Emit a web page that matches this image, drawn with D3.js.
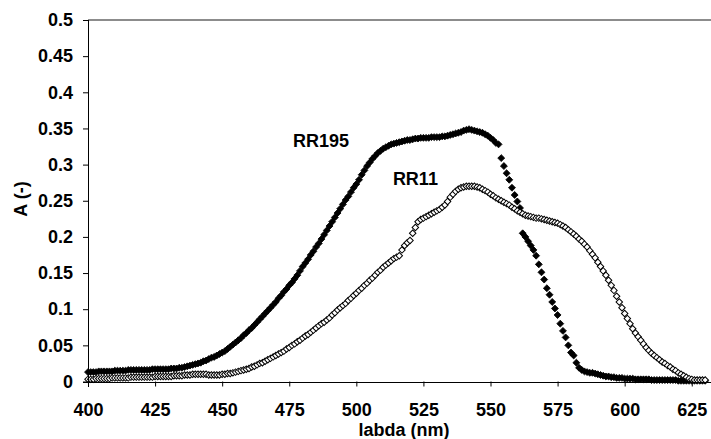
<!DOCTYPE html>
<html>
<head>
<meta charset="utf-8">
<script src="https://cdn.jsdelivr.net/npm/d3@7.9.0/dist/d3.min.js"></script>
<style>
  body { margin: 0; background: #fff; }
  svg { display: block; font-family: "Liberation Sans", Arial, sans-serif; font-weight: bold; }
  .tick text { font-size: 18px; fill: #000; }
</style>
</head>
<body>
<svg id="chart" width="711" height="439"></svg>
<script>
// wavelength grid, one reading per nm (400 .. 630)
const wavelengths = d3.range(400, 631);

const rr195 = [
  0.013,0.013,0.013,0.013,0.014,0.014,0.014,0.014,0.014,0.014,
  0.015,0.015,0.015,0.015,0.015,0.016,0.016,0.016,0.016,0.016,
  0.016,0.016,0.016,0.016,0.017,0.017,0.017,0.017,0.017,0.017,
  0.017,0.018,0.018,0.018,0.019,0.019,0.020,0.021,0.022,0.023,
  0.024,0.025,0.026,0.028,0.029,0.031,0.033,0.034,0.036,0.038,
  0.040,0.042,0.045,0.048,0.051,0.054,0.057,0.060,0.064,0.067,
  0.071,0.074,0.078,0.082,0.086,0.090,0.094,0.098,0.102,0.106,
  0.110,0.115,0.119,0.124,0.128,0.133,0.137,0.142,0.147,0.153,
  0.159,0.164,0.169,0.175,0.180,0.186,0.191,0.197,0.203,0.209,
  0.215,0.221,0.227,0.233,0.239,0.245,0.251,0.256,0.262,0.268,
  0.273,0.279,0.286,0.292,0.298,0.303,0.308,0.312,0.316,0.319,
  0.322,0.324,0.326,0.328,0.329,0.330,0.331,0.332,0.333,0.334,
  0.334,0.335,0.336,0.336,0.337,0.337,0.337,0.337,0.338,0.338,
  0.338,0.338,0.339,0.339,0.340,0.341,0.342,0.343,0.344,0.345,
  0.347,0.348,0.349,0.348,0.347,0.346,0.345,0.344,0.342,0.340,
  0.337,0.334,0.330,0.328,0.309,0.298,0.288,0.279,0.268,0.258,
  0.249,0.240,0.205,0.200,0.194,0.188,0.182,0.174,0.162,0.151,
  0.141,0.129,0.120,0.110,0.101,0.092,0.080,0.070,0.061,0.050,
  0.040,0.036,0.026,0.019,0.016,0.014,0.013,0.012,0.012,0.011,
  0.010,0.009,0.008,0.007,0.007,0.006,0.006,0.005,0.005,0.005,
  0.004,0.004,0.004,0.004,0.003,0.003,0.003,0.003,0.003,0.003,
  0.002,0.002,0.002,0.002,0.002,0.002,0.002,0.002,0.002,0.002,
  0.001,0.001,0.001,0.001,0.001,0.001,0.001,0.001,0.001,0.001,
  0.001
];

const rr11 = [
  0.003,0.003,0.003,0.004,0.004,0.004,0.004,0.004,0.004,0.005,
  0.005,0.005,0.005,0.005,0.005,0.005,0.006,0.006,0.006,0.006,
  0.006,0.006,0.006,0.006,0.006,0.007,0.007,0.007,0.007,0.007,
  0.007,0.007,0.008,0.008,0.008,0.008,0.009,0.009,0.009,0.010,
  0.010,0.010,0.010,0.010,0.010,0.009,0.009,0.009,0.009,0.009,
  0.010,0.010,0.011,0.011,0.012,0.013,0.014,0.015,0.016,0.017,
  0.018,0.020,0.021,0.023,0.025,0.026,0.028,0.030,0.032,0.034,
  0.036,0.038,0.040,0.042,0.045,0.047,0.050,0.052,0.055,0.057,
  0.060,0.063,0.065,0.068,0.071,0.074,0.077,0.080,0.082,0.085,
  0.088,0.092,0.095,0.099,0.102,0.105,0.108,0.112,0.115,0.119,
  0.122,0.126,0.129,0.133,0.136,0.140,0.143,0.147,0.151,0.154,
  0.158,0.161,0.164,0.167,0.170,0.172,0.174,0.182,0.188,0.192,
  0.195,0.205,0.213,0.221,0.224,0.226,0.228,0.230,0.232,0.234,
  0.236,0.238,0.241,0.244,0.249,0.255,0.259,0.263,0.266,0.268,
  0.269,0.270,0.270,0.270,0.270,0.269,0.268,0.266,0.264,0.262,
  0.259,0.257,0.254,0.252,0.250,0.248,0.246,0.244,0.241,0.239,
  0.236,0.234,0.232,0.230,0.229,0.228,0.227,0.226,0.226,0.225,
  0.224,0.223,0.222,0.221,0.220,0.219,0.217,0.215,0.213,0.210,
  0.207,0.204,0.201,0.197,0.194,0.190,0.186,0.181,0.176,0.171,
  0.165,0.159,0.153,0.147,0.140,0.133,0.126,0.118,0.110,0.102,
  0.094,0.087,0.080,0.073,0.067,0.062,0.057,0.052,0.047,0.043,
  0.039,0.036,0.033,0.030,0.027,0.025,0.022,0.020,0.017,0.015,
  0.012,0.010,0.008,0.006,0.004,0.003,0.002,0.002,0.002,0.002,
  0.002
];

const xTicks = [400, 425, 450, 475, 500, 525, 550, 575, 600, 625];
const yTicks = [0, 0.05, 0.1, 0.15, 0.2, 0.25, 0.3, 0.35, 0.4, 0.45, 0.5];
// label anchor = right end of the text, in data units
const seriesLabels = [
  { text: 'RR195', x: 497.3, y: 0.324 },
  { text: 'RR11', x: 530.4, y: 0.272 }
];

const svg = d3.select('#chart');

// plot area runs past the right edge of the picture (cropped like the source)
const x = d3.scaleLinear().domain([400, 640]).range([88, 732]);
const y = d3.scaleLinear().domain([0, 0.5]).range([381.5, 20]);

// top frame line (grey)
svg.append('line')
  .attr('x1', x(400)).attr('x2', x(640))
  .attr('y1', y(0.5)).attr('y2', y(0.5))
  .attr('stroke', '#666').attr('stroke-width', 1.5);

function drawSeries(values, filled) {
  const diamond = d3.symbol().type(d3.symbolSquare).size(filled ? 24 : 21);
  svg.append('g')
    .selectAll('path')
    .data(values.map((v, i) => [wavelengths[i], v]))
    .join('path')
    .attr('d', diamond)
    .attr('transform', d => `translate(${x(d[0])},${y(d[1])}) rotate(45)`)
    .attr('fill', filled ? '#000' : '#fff')
    .attr('stroke', '#000')
    .attr('stroke-width', filled ? 0.8 : 1);
}

drawSeries(rr195, true);
drawSeries(rr11, false);

const xAxis = svg.append('g')
  .attr('transform', `translate(0,${y(0)})`)
  .call(d3.axisBottom(x).tickValues(xTicks).tickSize(5).tickPadding(18).tickFormat(d3.format('d')));

const yAxis = svg.append('g')
  .attr('transform', `translate(${x(400)},0)`)
  .call(d3.axisLeft(y).tickValues(yTicks).tickSize(5).tickPadding(10).tickFormat(d => d === 0 ? '0' : String(d)));

[xAxis, yAxis].forEach(g => {
  g.select('.domain').attr('stroke', '#000').attr('shape-rendering', 'crispEdges');
  g.selectAll('.tick line').attr('stroke', '#000');
  g.attr('font-family', null).attr('font-size', null);
});
xAxis.selectAll('.tick text').attr('dy', '0.71em').attr('y', 22);
yAxis.selectAll('.tick text').attr('x', -15);

svg.append('text')
  .attr('x', 404).attr('y', 436)
  .attr('text-anchor', 'middle')
  .attr('font-size', 18)
  .text('labda (nm)');

svg.append('text')
  .attr('transform', 'translate(27,199) rotate(-90)')
  .attr('text-anchor', 'middle')
  .attr('font-size', 18)
  .text('A (-)');

svg.append('g')
  .selectAll('text')
  .data(seriesLabels)
  .join('text')
  .attr('x', d => x(d.x))
  .attr('y', d => y(d.y))
  .attr('text-anchor', 'end')
  .attr('font-size', 18)
  .text(d => d.text);
</script>
</body>
</html>
